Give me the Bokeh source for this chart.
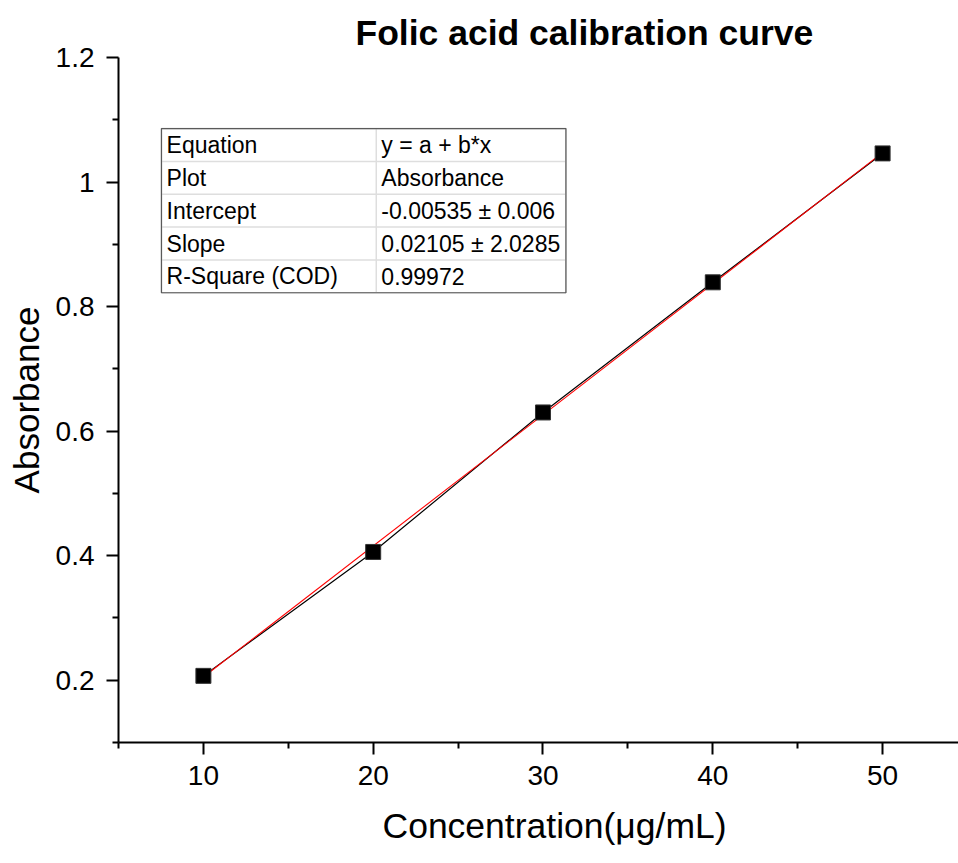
from bokeh.plotting import figure
from bokeh.models import Range1d, FixedTicker, Title
from bokeh.core.properties import value
from bokeh.embed import file_html
from bokeh.resources import INLINE

# Calibration standards
concentration = [10, 20, 30, 40, 50]
absorbance = [0.207, 0.406, 0.630, 0.839, 1.046]

# Linear fit results (y = a + b*x)
intercept = -0.00535
slope = 0.02105

x_ticks = [10, 20, 30, 40, 50]
x_minor = [5, 15, 25, 35, 45]
y_ticks = [0.2, 0.4, 0.6, 0.8, 1.0, 1.2]
y_minor = [0.1, 0.3, 0.5, 0.7, 0.9, 1.1]

table_keys = ["Equation", "Plot", "Intercept", "Slope", "R-Square (COD)"]
table_vals = ["y = a + b*x", "Absorbance", "-0.00535 \u00b1 0.006",
              "0.02105 \u00b1 2.0285", "0.99972"]

FONT = "Liberation Sans"

p = figure(width=958, height=863,
           x_range=Range1d(5, 54.47), y_range=Range1d(0.1, 1.2),
           output_backend="svg", toolbar_location=None,
           min_border_left=118, min_border_right=0,
           min_border_top=57, min_border_bottom=121)

p.outline_line_color = None
p.grid.visible = False
p.background_fill_color = "white"
p.border_fill_color = "white"

# Title
p.title.text = "Folic acid calibration curve"
p.title.text_font = FONT
p.title.text_font_size = "35.5px"
p.title.text_font_style = "bold"
p.title.text_color = "black"
p.title.align = "left"
p.title.offset = 237
p.title.standoff = 10

# Axes
for ax in (p.xaxis[0], p.yaxis[0]):
    ax.axis_line_width = 2
    ax.axis_line_color = "black"
    ax.major_tick_line_width = 2
    ax.minor_tick_line_width = 2
    ax.major_tick_line_color = "black"
    ax.minor_tick_line_color = "black"
    ax.major_tick_in = 0
    ax.major_tick_out = 12
    ax.minor_tick_in = 0
    ax.minor_tick_out = 6
    ax.major_label_text_font = FONT
    ax.major_label_text_font_size = "28px"
    ax.major_label_text_color = "black"
    ax.axis_label_text_font = FONT
    ax.axis_label_text_font_size = "35px"
    ax.axis_label_text_font_style = "normal"
    ax.axis_label_text_color = "black"

p.xaxis.ticker = FixedTicker(ticks=x_ticks, minor_ticks=x_minor)
p.yaxis.ticker = FixedTicker(ticks=y_ticks, minor_ticks=y_minor)
p.yaxis.major_label_overrides = {1: "1", 1.0: "1"}
p.yaxis.axis_label = "Absorbance"
p.xaxis.major_label_standoff = 11
p.yaxis.major_label_standoff = 12
p.yaxis.axis_label_standoff = 7

# x-axis caption, set slightly right of the frame centre
x_caption = Title(text="Concentration(\u03bcg/mL)", align="left", offset=264,
                  text_font=FONT, text_font_size="35.5px",
                  text_font_style="normal", text_color="black", standoff=33)
p.add_layout(x_caption, "below")

# Data line, fit line and markers
p.line(concentration, absorbance, line_color="black", line_width=1.2)
fit_x = [concentration[0], concentration[-1]]
fit_y = [intercept + slope * x for x in fit_x]
p.line(fit_x, fit_y, line_color="#ff0000", line_width=1.1)
p.scatter(concentration, absorbance, marker="square", size=15,
          fill_color="black", line_color="#333333", line_width=1)

# Fit summary table
tbl_left, tbl_mid, tbl_right = 7.53, 20.18, 31.35
tbl_top, row_h = 1.0859, 0.05274
n_rows = len(table_keys)
tbl_bottom = tbl_top - n_rows * row_h

p.quad(left=[tbl_left], right=[tbl_right], top=[tbl_top], bottom=[tbl_bottom],
       fill_color="white", line_color="#d6d6d6", line_width=1.5)
row_lines = [tbl_top - i * row_h for i in range(1, n_rows)]
p.segment(x0=[tbl_left] * len(row_lines), x1=[tbl_right] * len(row_lines),
          y0=row_lines, y1=row_lines, line_color="#dedede", line_width=1.5)
p.segment(x0=[tbl_mid], x1=[tbl_mid], y0=[tbl_top], y1=[tbl_bottom],
          line_color="#dedede", line_width=1.5)
p.quad(left=[tbl_left], right=[tbl_right], top=[tbl_top], bottom=[tbl_bottom],
       fill_color=None, line_color="#5a5a5a", line_width=1.2)

row_centers = [tbl_top - (i + 0.5) * row_h for i in range(n_rows)]
pad = 0.3
p.text(x=[tbl_left + pad] * n_rows, y=row_centers, text=table_keys,
       text_font=value(FONT), text_font_size="23px", text_color="black",
       text_baseline="middle", text_align="left")
p.text(x=[tbl_mid + pad] * n_rows, y=row_centers, text=table_vals,
       text_font=value(FONT), text_font_size="23px", text_color="black",
       text_baseline="middle", text_align="left")

open("out.html", "w").write(file_html(p, INLINE))
